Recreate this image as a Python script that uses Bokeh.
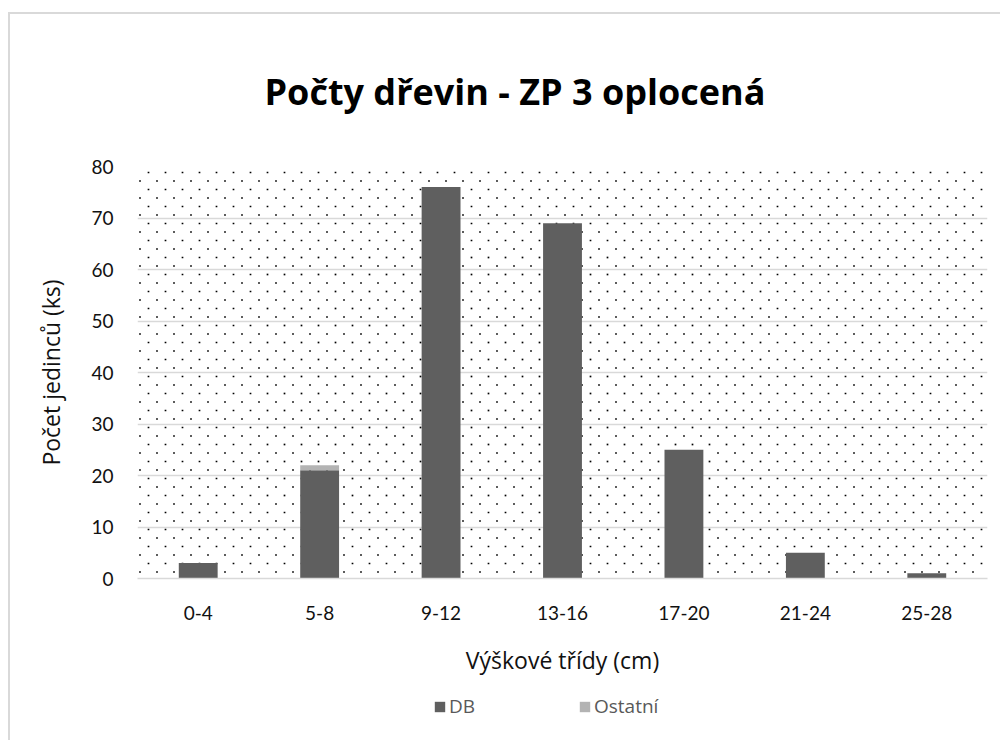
import numpy as np
from bokeh.plotting import figure
from bokeh.layouts import column
from bokeh.models import Range1d, Legend, LegendItem
from bokeh.embed import file_html
from bokeh.resources import INLINE

# ---- data ----
categories = ["0-4", "5-8", "9-12", "13-16", "17-20", "21-24", "25-28"]
db_values = [3, 21, 76, 69, 25, 5, 1]
ostatni_values = [0, 1, 0, 0, 0, 0, 0]
series_names = ["DB", "Ostatní"]
series_colors = ["#5f5f5f", "#b3b3b3"]
y_ticks = [0, 10, 20, 30, 40, 50, 60, 70, 80]

title_text = "Počty dřevin - ZP 3 oplocená"
x_title = "Výškové třídy (cm)"
y_title = "Počet jedinců (ks)"

TICK_FONT = "Lato"
TEXT_FONT = "Open Sans"

source = dict(cat=categories, DB=db_values, Ostatní=ostatni_values)

FRAME_W, FRAME_H = 850, 412
Y_MAX = 80

p = figure(
    x_range=categories,
    y_range=Range1d(0, Y_MAX),
    width=990, height=676,
    output_backend="svg", toolbar_location=None,
    min_border_left=127, min_border_right=13,
    min_border_top=152, min_border_bottom=112,
    background_fill_color="white", border_fill_color="white",
    outline_line_color=None,
    title=title_text,
)
p.title.text_font = TEXT_FONT
p.title.text_font_size = "36px"
p.title.text_font_style = "bold"
p.title.text_color = "#000000"
p.title.align = "left"
p.title.offset = 127
p.title.standoff = 101

# dotted fill texture of the plot area (staggered 17px x 8.5px lattice)
px_per_x = FRAME_W / len(categories)
px_per_y = FRAME_H / Y_MAX
tex_x, tex_y = [], []
for i, py in enumerate(np.arange(6, FRAME_H, 8.5)):
    x0 = 11 if i % 2 == 0 else 2.5
    for px in np.arange(x0, FRAME_W, 17):
        tex_x.append(px / px_per_x)
        tex_y.append(Y_MAX - py / px_per_y)
p.scatter(tex_x, tex_y, marker="square", size=1.7, fill_color="#000000",
          line_color=None)

p.vbar_stack(series_names, x="cat", width=0.32, color=series_colors,
             line_color=None, source=source)

# grid / axes
p.xgrid.grid_line_color = None
p.ygrid.grid_line_color = "#d9d9d9"
p.ygrid.grid_line_width = 1.5
p.yaxis.ticker = y_ticks

for ax in (p.xaxis[0], p.yaxis[0]):
    ax.major_tick_line_color = None
    ax.minor_tick_line_color = None
    ax.major_tick_out = 0
    ax.major_tick_in = 0
    ax.major_label_text_font = TICK_FONT
    ax.major_label_text_font_size = "19px"
    ax.major_label_text_color = "#111111"
    ax.axis_label_text_font = TEXT_FONT
    ax.axis_label_text_font_size = "23px"
    ax.axis_label_text_font_style = "normal"
    ax.axis_label_text_color = "#111111"

p.yaxis.axis_line_color = None
p.xaxis.axis_line_color = "#d9d9d9"
p.xaxis.axis_line_width = 1.5
p.xaxis.axis_label = x_title
p.yaxis.axis_label = y_title
p.xaxis.major_label_standoff = 27
p.yaxis.major_label_standoff = 24
p.xaxis.axis_label_standoff = 21
p.yaxis.axis_label_standoff = 21

# ---- legend strip below the chart ----
# (its bars lie outside this strip's visible range; only the legend shows)
lg = figure(
    x_range=categories, y_range=Range1d(1000, 1001),
    width=990, height=50,
    output_backend="svg", toolbar_location=None,
    x_axis_type=None, y_axis_type=None,
    min_border=0, min_border_left=0, min_border_right=0,
    min_border_top=0, min_border_bottom=0,
    outline_line_color=None, background_fill_color="white",
    border_fill_color="white",
)
lg.grid.visible = False
lrs = lg.vbar_stack(series_names, x="cat", width=0.32, color=series_colors,
                    line_color=None, source=source)
legend = Legend(items=[LegendItem(label=n, renderers=[r]) for n, r in zip(series_names, lrs)],
                orientation="horizontal", location=(296, 21),
                border_line_color=None, background_fill_alpha=0,
                padding=0, margin=0, spacing=29,
                glyph_width=13, glyph_height=13, label_standoff=3,
                label_width=100, label_height=24,
                label_text_font=TEXT_FONT, label_text_font_size="19px",
                label_text_color="#595959")
lg.add_layout(legend)

layout = column(p, lg, spacing=0)
layout.styles = {"border-left": "2px solid #d9d9d9", "border-top": "2px solid #d9d9d9",
                 "margin-top": "12px", "margin-left": "8px"}

open("out.html", "w").write(file_html(layout, INLINE))
